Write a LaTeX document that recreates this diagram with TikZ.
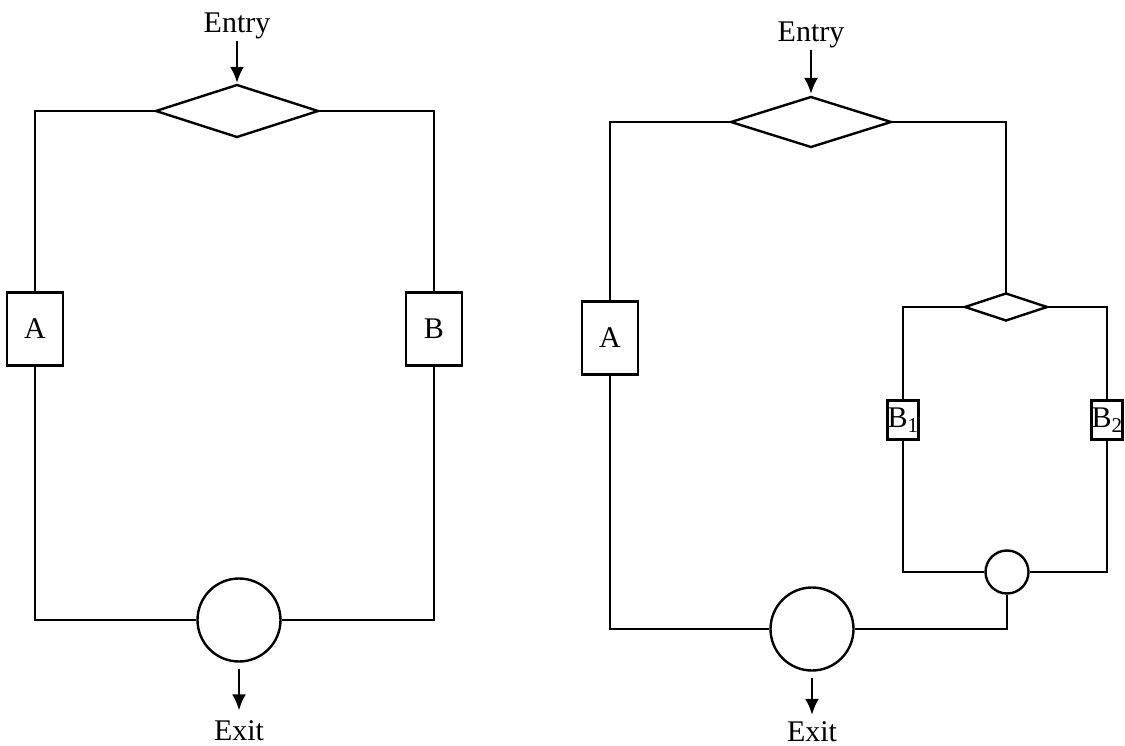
\documentclass[tikz,border=0pt]{standalone}
\usepackage{fontspec}
\setmainfont{Liberation Serif}
\usetikzlibrary{shapes.geometric,arrows.meta}
\begin{document}
\begin{tikzpicture}[
    x=1pt, y=-1pt,
    decision/.style={diamond, draw, line width=2.4pt, inner sep=0pt, outer sep=0pt},
    process/.style={rectangle, draw, line width=2.4pt, inner sep=0pt, font=\fontsize{30}{36}\selectfont},
    junction/.style={circle, draw, line width=2.4pt, inner sep=0pt},
    txt/.style={inner sep=0pt, font=\fontsize{30}{36}\selectfont},
    wire/.style={line width=2.4pt},
    arrow/.style={-{Latex[length=16pt,width=14pt]}, line width=2.8pt}
]
    \useasboundingbox (0,0) rectangle (1125,746);

    \node[txt, anchor=base] (entryL) at (237,33) {Entry};
    \node[decision, minimum width=162pt, minimum height=52pt] (dL) at (237,111) {};
    \node[process, minimum width=56pt, minimum height=73pt] (aL) at (35,329) {A};
    \node[process, minimum width=56pt, minimum height=73pt] (bL) at (434,329) {B};
    \node[junction, minimum size=83pt] (cL) at (239,620) {};
    \node[txt, anchor=base] (exitL) at (239,740) {Exit};

    \draw[arrow, shorten <=1.5pt, shorten >=2pt] (entryL) -- (dL);
    \draw[wire] (dL.west) -| (aL.north);
    \draw[wire] (aL.south) |- (cL.west);
    \draw[wire] (cL.east) -| (bL.south);
    \draw[wire] (bL.north) |- (dL.east);
    \draw[arrow, shorten <=6.5pt, shorten >=9.5pt] (cL) -- (exitL);

    \node[txt, anchor=base] (entryR) at (811,42) {Entry};
    \node[decision, minimum width=160pt, minimum height=50pt] (dR) at (811,122) {};
    \node[process, minimum width=56pt, minimum height=73pt] (aR) at (610,338) {A};
    \node[decision, minimum width=82pt, minimum height=27pt] (dS) at (1006,307) {};
    \node[process, minimum width=30pt, minimum height=39pt] (bOne) at (903,420) {B\textsubscript{1}};
    \node[process, minimum width=30pt, minimum height=39pt] (bTwo) at (1107,420) {B\textsubscript{2}};
    \node[junction, minimum size=43pt] (cS) at (1007,572) {};
    \node[junction, minimum size=83pt] (cR) at (812,629) {};
    \node[txt, anchor=base] (exitR) at (812,741) {Exit};

    \draw[arrow, shorten <=1pt, shorten >=3pt] (entryR) -- (dR);
    \draw[wire] (dR.west) -| (aR.north);
    \draw[wire] (aR.south) |- (cR.west);
    \draw[wire] (dR.east) -| (dS.north);
    \draw[wire] (dS.west) -| (bOne.north);
    \draw[wire] (dS.east) -| (bTwo.north);
    \draw[wire] (bOne.south) |- (cS.west);
    \draw[wire] (bTwo.south) |- (cS.east);
    \draw[wire] (cS.south) |- (cR.east);
    \draw[arrow, shorten <=6.5pt, shorten >=6pt] (cR) -- (exitR);
\end{tikzpicture}
\end{document}
